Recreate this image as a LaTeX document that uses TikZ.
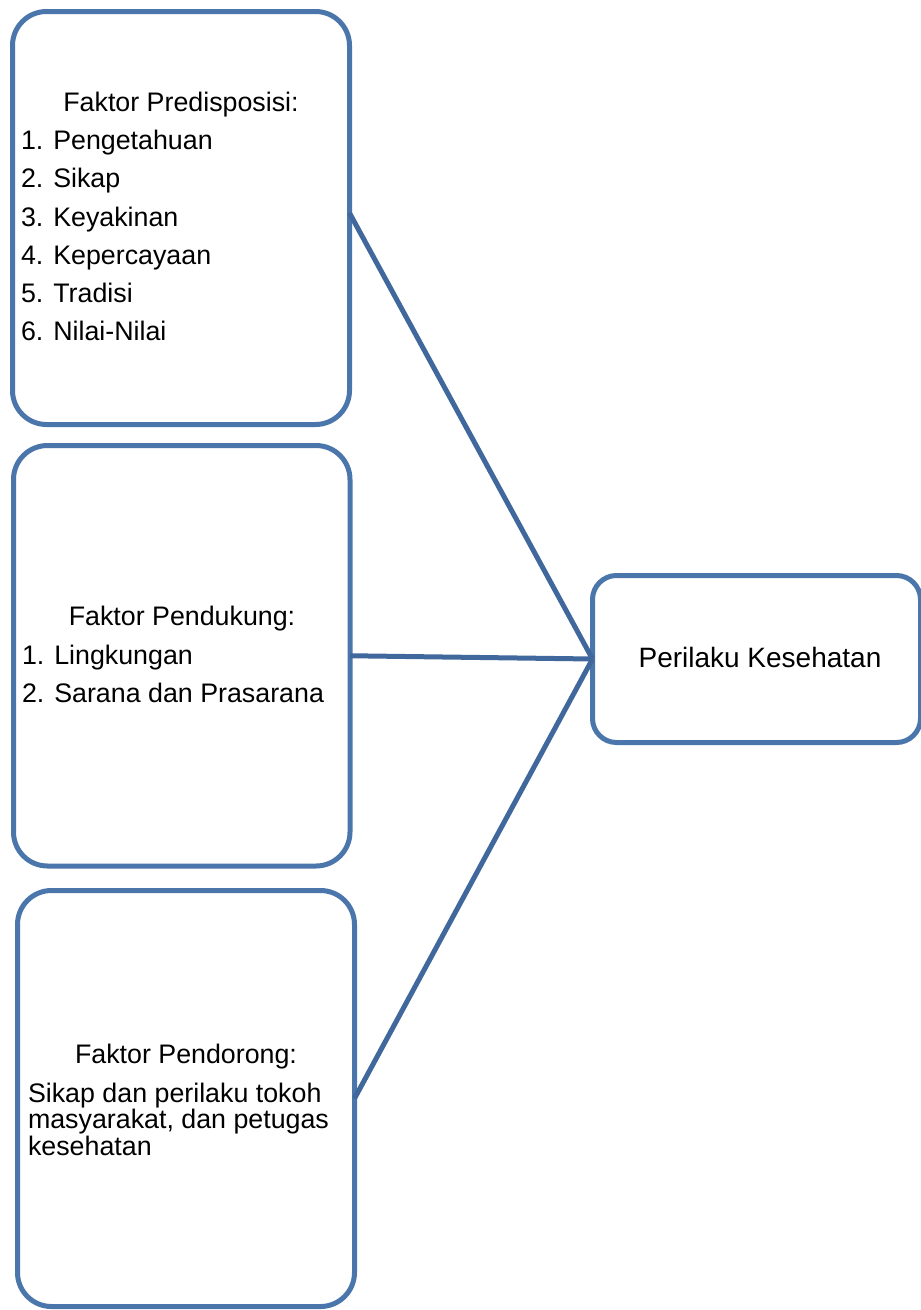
\documentclass[tikz,border=0pt]{standalone}
\usepackage{fontspec}
\setmainfont{Liberation Sans}
\definecolor{boxblue}{RGB}{74,118,172}
\definecolor{lineblue}{RGB}{65,104,156}
\begin{document}
\begin{tikzpicture}[x=1pt,y=-1pt,
  boxnode/.style={draw=boxblue, line width=5pt, rounded corners=34pt, inner sep=0pt, outer sep=0pt, fill=white},
  txt/.style={inner sep=0pt, outer sep=0pt, font=\fontsize{26.8}{32}\selectfont},
  bigtxt/.style={inner sep=0pt, outer sep=0pt, font=\fontsize{28}{33}\selectfont},
  conn/.style={draw=lineblue, line width=5pt}]
\useasboundingbox (0,0) rectangle (921,1310);
% boxes
\node[boxnode, minimum width=337pt, minimum height=413pt] (b1) at (181,218) {};
\node[boxnode, minimum width=336.5pt, minimum height=420.5pt] (b2) at (181.75,655.75) {};
\node[boxnode, minimum width=337pt, minimum height=416pt] (b3) at (186,1098.5) {};
\node[boxnode, rounded corners=24pt, minimum width=328pt, minimum height=167pt] (b4) at (756.5,659) {};
% connectors
\draw[conn] ([yshift=5pt]b1.east) -- (b4.west);
\draw[conn] (b2.east) -- (b4.west);
\draw[conn] (b3.east) -- (b4.west);
% box 1 text
\node[txt, anchor=base] (h1) at (181,111) {Faktor Predisposisi:};
\node[txt, anchor=base west] (p1) at (21,149) {1. Pengetahuan};
\node[txt, anchor=base west] (p2) at (21,187) {2. Sikap};
\node[txt, anchor=base west] (p3) at (21,226) {3. Keyakinan};
\node[txt, anchor=base west] (p4) at (21,264) {4. Kepercayaan};
\node[txt, anchor=base west] (p5) at (21,302) {5. Tradisi};
\node[txt, anchor=base west] (p6) at (21,340) {6. Nilai-Nilai};
% box 2 text
\node[txt, anchor=base] (h2) at (182,625) {Faktor Pendukung:};
\node[txt, anchor=base west] (q1) at (22,664) {1. Lingkungan};
\node[txt, anchor=base west] (q2) at (22,702) {2. Sarana dan Prasarana};
% box 3 text
\node[txt, anchor=base] (h3) at (186,1063) {Faktor Pendorong:};
\node[txt, anchor=base west] (r1) at (28,1102) {Sikap dan perilaku tokoh};
\node[txt, anchor=base west] (r2) at (28,1128) {masyarakat, dan petugas};
\node[txt, anchor=base west] (r3) at (28,1155) {kesehatan};
% box 4 text
\node[bigtxt, anchor=base] (t4) at (760,667) {Perilaku Kesehatan};
\end{tikzpicture}
\end{document}
